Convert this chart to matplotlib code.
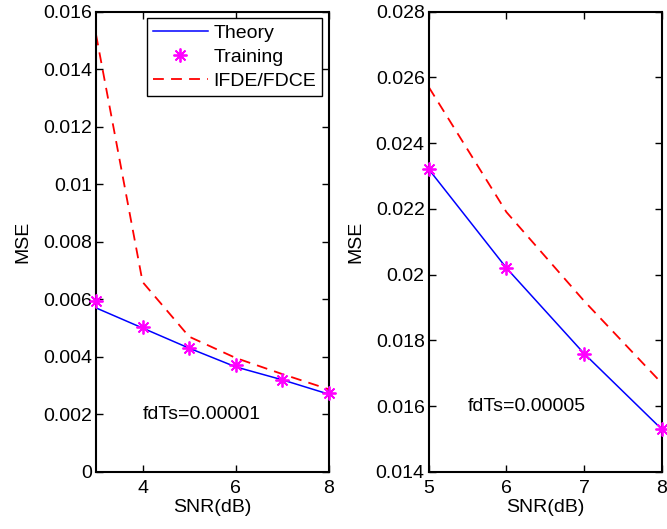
import matplotlib.pyplot as plt

plt.rcParams['font.family'] = ['Liberation Sans', 'DejaVu Sans']

# fdTs = 0.00001
snr1 = [3, 4, 5, 6, 7, 8]
theory1 = [0.0057, 0.0050, 0.0043, 0.00365, 0.0032, 0.0027]
train1 = [0.00595, 0.00505, 0.0043, 0.0037, 0.0032, 0.00275]
ifde1 = [0.0152, 0.0066, 0.0047, 0.00396, 0.0034, 0.00287]

# fdTs = 0.00005
snr2 = [5, 6, 7, 8]
theory2 = [0.0232, 0.0202, 0.0176, 0.0153]
train2 = [0.0232, 0.0202, 0.0176, 0.0153]
ifde2 = [0.0257, 0.0219, 0.0192, 0.0167]

fig = plt.figure(figsize=(6.67, 5.29), dpi=100)
ax1 = fig.add_axes([0.144, 0.108, 0.349, 0.870])
ax2 = fig.add_axes([0.643, 0.108, 0.349, 0.870])

ast = (8, 2, 0)
fs = 14


def style(ax):
    for s in ax.spines.values():
        s.set_linewidth(1.5)
    ax.tick_params(direction='in', top=True, right=True, labelsize=fs,
                   length=5, width=1, pad=3)
    ax.tick_params(axis='x', pad=6)
    ax.set_xlabel('SNR(dB)', fontsize=fs, labelpad=1)
    ax.set_ylabel('MSE', fontsize=fs, labelpad=8)


ax1.plot(snr1, theory1, color='blue', lw=1.1, label='Theory')
ax1.plot(snr1, train1, ls='none', marker=ast, ms=10, mew=1.3,
         color='magenta', label='Training', clip_on=False, zorder=5)
ax1.plot(snr1, ifde1, color='red', ls=(0, (6, 4)), lw=1.3, label='IFDE/FDCE')
ax1.set_xlim(3, 8)
ax1.set_ylim(0, 0.016)
ax1.set_xticks([4, 6, 8])
ax1.set_yticks([0, 0.002, 0.004, 0.006, 0.008, 0.01, 0.012, 0.014, 0.016])
ax1.set_yticklabels(['0', '0.002', '0.004', '0.006', '0.008', '0.01',
                     '0.012', '0.014', '0.016'])
ax1.text(4.0, 0.002, 'fdTs=0.00001', fontsize=fs, va='center', ha='left')
leg = ax1.legend(loc='upper right', fontsize=fs, fancybox=False,
                 edgecolor='black', framealpha=1, borderaxespad=0.35,
                 handlelength=2.8, labelspacing=0.33, borderpad=0.3,
                 handletextpad=0.3)
leg.get_frame().set_linewidth(1.0)
style(ax1)

ax2.plot(snr2, theory2, color='blue', lw=1.1)
ax2.plot(snr2, train2, ls='none', marker=ast, ms=10, mew=1.3,
         color='magenta', clip_on=False, zorder=5)
ax2.plot(snr2, ifde2, color='red', ls=(0, (6, 4)), lw=1.3)
ax2.set_xlim(5, 8)
ax2.set_ylim(0.014, 0.028)
ax2.set_xticks([5, 6, 7, 8])
ax2.set_yticks([0.014, 0.016, 0.018, 0.02, 0.022, 0.024, 0.026, 0.028])
ax2.set_yticklabels(['0.014', '0.016', '0.018', '0.02', '0.022', '0.024',
                     '0.026', '0.028'])
ax2.text(5.5, 0.016, 'fdTs=0.00005', fontsize=fs, va='center', ha='left')
style(ax2)

fig.savefig('out.png', dpi=100)
